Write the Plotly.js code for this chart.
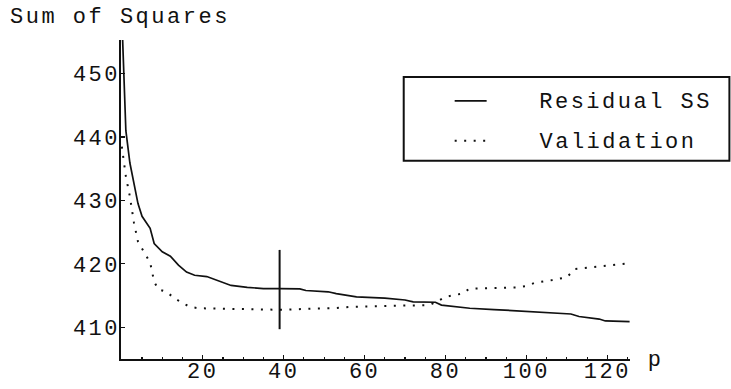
<!DOCTYPE html>
<html><head><meta charset="utf-8">
<script src="https://cdn.plot.ly/plotly-3.0.1.min.js"></script>
<style>
html,body{margin:0;padding:0;background:#fff;}
#chart{width:731px;height:389px;}
#chart svg text{letter-spacing:2.5px;}
</style></head>
<body><div id="chart"></div>
<script>
// Number of components p and residual sum of squares (solid curve)
const residualP  = [0, 1, 2, 3, 4, 5, 6, 7, 8, 9, 10, 12, 13, 14, 16, 18, 21, 23, 25, 27, 31, 35, 39, 44, 45.5, 51, 53, 58, 65, 70, 72, 77.5, 79, 86, 92, 100, 106, 111, 113, 118, 119.5, 125.5];
const residualSS = [459, 441, 435.9, 432.6, 429.5, 427.5, 426.5, 425.6, 423.2, 422.5, 421.9, 421.2, 420.5, 419.8, 418.7, 418.2, 418.0, 417.5, 417.0, 416.6, 416.3, 416.1, 416.1, 416.05, 415.8, 415.6, 415.3, 414.8, 414.6, 414.3, 414.0, 413.95, 413.5, 413.0, 412.8, 412.5, 412.3, 412.1, 411.7, 411.3, 411.0, 410.9];
// Validation sum of squares (dotted curve)
const validationP  = [0, 1, 2, 3, 4, 5, 6, 7, 8, 9, 11, 13, 15, 17, 19, 23, 28, 35, 40, 47, 52, 56, 62, 68, 72, 76, 78, 80, 84, 86, 92, 98, 100, 102, 106, 110, 112, 116, 120, 125.5];
const validationSS = [438.5, 433.8, 430.6, 426.5, 423.5, 422.4, 421.3, 420.2, 417.2, 416.0, 415.6, 414.6, 413.8, 413.2, 413.0, 412.95, 412.85, 412.75, 412.75, 412.95, 413.0, 413.2, 413.35, 413.4, 413.45, 413.5, 414.1, 414.8, 415.3, 416.1, 416.2, 416.3, 416.5, 417.0, 417.4, 417.9, 419.2, 419.5, 419.8, 420.1];
// Marker for the chosen p
const chosenP = [39, 39];
const chosenRange = [409.7, 422.2];
// Ticks and labels
const xTickVals = [20, 40, 60, 80, 100, 120];
const yTickVals = [410, 420, 430, 440, 450];
const seriesNames = ['Residual SS', 'Validation'];
const titleText = 'Sum of Squares';
const xLabel = 'p';

const FONT = '"Liberation Mono", "Courier New", Courier, monospace';
const FS = 22, LS = 2.5;              // font size, letter spacing
const charW = FS * 0.6 + LS;          // rendered advance per character
const W = 731, H = 389;
const L = 121, R = 100.5, T = 40, B = 29.6;
const pw = W - L - R, ph = H - T - B;
const px = v => (v - L) / pw;          // pixel x -> paper
const py = v => (H - B - v) / ph;      // pixel y -> paper
const leftAt = (left, s) => px(left + s.length * charW / 2);

const traces = [
  {x: residualP, y: residualSS, mode: 'lines', name: seriesNames[0],
   line: {color: '#111', width: 1.7}},
  {x: validationP, y: validationSS, mode: 'lines', name: seriesNames[1],
   line: {color: '#111', width: 2, dash: '2px,7.5px'}},
  {x: chosenP, y: chosenRange, mode: 'lines', name: 'chosen',
   line: {color: '#111', width: 2}}
];

const tf = {family: FONT, size: FS, color: '#111'};
const layout = {
  width: W, height: H,
  margin: {l: L, r: R, t: T, b: B, pad: 0},
  paper_bgcolor: '#fff', plot_bgcolor: '#fff',
  showlegend: false,
  font: tf,
  title: {text: titleText, x: 10 / W, xanchor: 'left', xref: 'container',
          y: 1 - 15.5 / H, yanchor: 'middle', yref: 'container', font: tf},
  xaxis: {range: [-0.2, 125.6], showgrid: false, zeroline: false,
          showline: true, linecolor: '#111', linewidth: 1.6,
          tickmode: 'array', tickvals: xTickVals, ticktext: xTickVals.map(String),
          ticks: 'inside', ticklen: 4, tickwidth: 1.2, tickcolor: '#111',
          ticklabelstandoff: -9,
          minor: {dtick: 5, tick0: 0, ticks: 'inside', ticklen: 2, tickcolor: '#111', showgrid: false},
          tickfont: tf},
  yaxis: {range: [405, 455.3], showgrid: false, zeroline: false,
          showline: true, linecolor: '#111', linewidth: 1.6,
          tickmode: 'array', tickvals: yTickVals, ticktext: yTickVals.map(String),
          ticks: 'inside', ticklen: 4, tickwidth: 1.2, tickcolor: '#111',
          ticklabelstandoff: -5,
          tickfont: tf},
  shapes: [
    {type: 'rect', xref: 'paper', yref: 'paper', x0: px(404), x1: px(730), y0: py(161), y1: py(77),
     line: {color: '#111', width: 2}, fillcolor: 'rgba(0,0,0,0)'},
    {type: 'line', xref: 'paper', yref: 'paper', x0: px(455), x1: px(487), y0: py(101), y1: py(101),
     line: {color: '#111', width: 1.7}},
    {type: 'line', xref: 'paper', yref: 'paper', x0: px(455), x1: px(487), y0: py(141), y1: py(141),
     line: {color: '#111', width: 2, dash: '2px,7.5px'}}
  ],
  annotations: [
    {text: seriesNames[0], xref: 'paper', yref: 'paper', x: leftAt(540, seriesNames[0]), y: py(103),
     xanchor: 'center', yanchor: 'middle', showarrow: false, font: tf},
    {text: seriesNames[1], xref: 'paper', yref: 'paper', x: leftAt(540, seriesNames[1]), y: py(142.5),
     xanchor: 'center', yanchor: 'middle', showarrow: false, font: tf},
    {text: xLabel, xref: 'paper', yref: 'paper', x: leftAt(648, xLabel), y: py(361),
     xanchor: 'center', yanchor: 'middle', showarrow: false, font: tf}
  ]
};

Plotly.newPlot('chart', traces, layout, {staticPlot: true, displayModeBar: false});
</script>
</body></html>
